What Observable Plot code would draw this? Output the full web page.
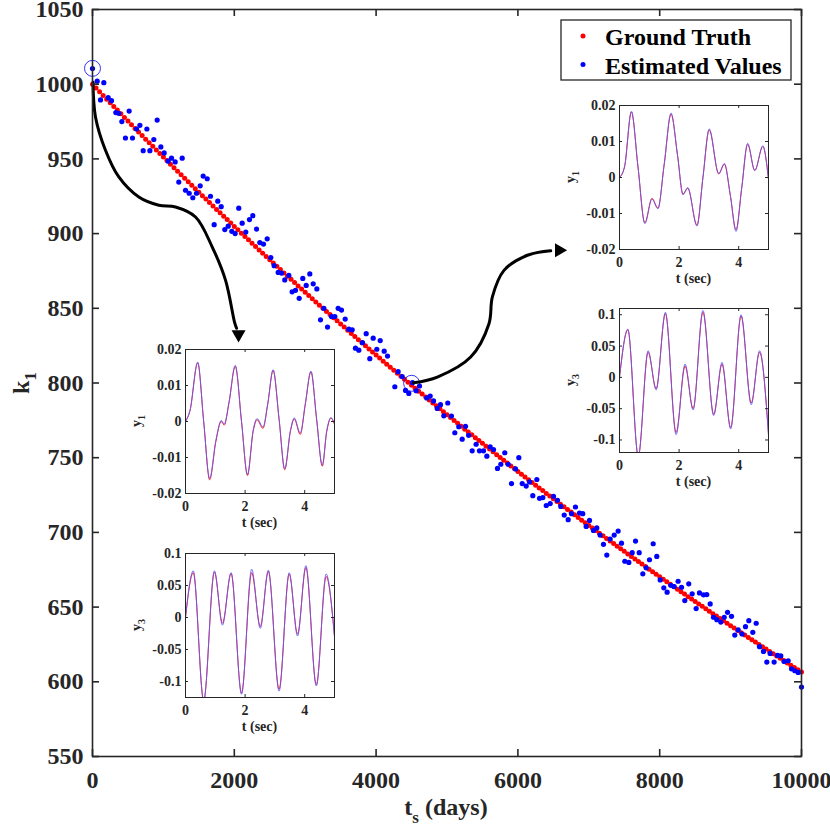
<!DOCTYPE html>
<html><head><meta charset="utf-8">
<script src="https://cdn.jsdelivr.net/npm/d3@7"></script>
<script src="https://cdn.jsdelivr.net/npm/@observablehq/plot@0.6"></script>
<style>
body{margin:0;background:#fff}
#wrap{position:relative;width:830px;height:830px;overflow:hidden;font-family:"Liberation Serif","Times New Roman",serif;font-weight:bold}
#wrap svg{position:absolute}
</style></head><body><div id="wrap"></div>
<script>
// ---------- main chart data ----------
const xTicks = [0, 2000, 4000, 6000, 8000, 10000];
const yTicks = [550, 600, 650, 700, 750, 800, 850, 900, 950, 1000, 1050];
const legendLabels = ["Ground Truth", "Estimated Values"];

const gtDays = [0,50,100,150,200,250,300,350,400,450,500,550,600,650,700,750,800,850,900,950,
1000,1050,1100,1150,1200,1250,1300,1350,1400,1450,1500,1550,1600,1650,1700,1750,1800,1850,1900,1950,
2000,2050,2100,2150,2200,2250,2300,2350,2400,2450,2500,2550,2600,2650,2700,2750,2800,2850,2900,2950,
3000,3050,3100,3150,3200,3250,3300,3350,3400,3450,3500,3550,3600,3650,3700,3750,3800,3850,3900,3950,
4000,4050,4100,4150,4200,4250,4300,4350,4400,4450,4500,4550,4600,4650,4700,4750,4800,4850,4900,4950,
5000,5050,5100,5150,5200,5250,5300,5350,5400,5450,5500,5550,5600,5650,5700,5750,5800,5850,5900,5950,
6000,6050,6100,6150,6200,6250,6300,6350,6400,6450,6500,6550,6600,6650,6700,6750,6800,6850,6900,6950,
7000,7050,7100,7150,7200,7250,7300,7350,7400,7450,7500,7550,7600,7650,7700,7750,7800,7850,7900,7950,
8000,8050,8100,8150,8200,8250,8300,8350,8400,8450,8500,8550,8600,8650,8700,8750,8800,8850,8900,8950,
9000,9050,9100,9150,9200,9250,9300,9350,9400,9450,9500,9550,9600,9650,9700,9750,9800,9850,9900,9950,10000];
const gtValues = [1000,997.5,995.0,992.5,990.0,987.6,985.1,982.7,980.2,977.7,975.3,972.9,970.4,968.0,965.6,963.2,960.8,958.4,956.0,953.6,
951.2,948.9,946.5,944.1,941.8,939.4,937.1,934.7,932.4,930.1,927.7,925.4,923.1,920.8,918.5,916.2,913.9,911.6,909.4,907.1,
904.8,902.6,900.3,898.1,895.8,893.6,891.4,889.1,886.9,884.7,882.5,880.3,878.1,875.9,873.7,871.5,869.4,867.2,865.0,862.9,
860.7,858.6,856.4,854.3,852.1,850.0,847.9,845.8,843.7,841.6,839.5,837.4,835.3,833.2,831.1,829.0,827.0,824.9,822.8,820.8,
818.7,816.7,814.6,812.6,810.6,808.6,806.5,804.5,802.5,800.5,798.5,796.5,794.5,792.6,790.6,788.6,786.6,784.7,782.7,780.8,
778.8,776.9,774.9,773.0,771.1,769.1,767.2,765.3,763.4,761.5,759.6,757.7,755.8,753.9,752.0,750.1,748.3,746.4,744.5,742.7,
740.8,739.0,737.1,735.3,733.4,731.6,729.8,728.0,726.1,724.3,722.5,720.7,718.9,717.1,715.3,713.6,711.8,710.0,708.2,706.5,
704.7,703.0,701.2,699.5,697.7,696.0,694.2,692.5,690.7,689.0,687.3,685.6,683.9,682.2,680.5,678.8,677.1,675.4,673.7,672.0,
670.3,668.6,667.0,665.3,663.7,662.0,660.3,658.7,657.0,655.4,653.8,652.1,650.5,648.9,647.3,645.6,644.0,642.4,640.8,639.2,
637.6,636.0,634.4,632.9,631.3,629.7,628.1,626.6,625.0,623.5,621.9,620.3,618.8,617.2,615.7,614.2,612.6,611.1,609.6,608.0,606.5];

const estDays = [0,66,113,160,221,268,329,371,414,465,517,564,621,668,715,767,809,865,912,964,
1011,1067,1114,1166,1217,1265,1312,1364,1415,1467,1519,1561,1618,1664,1716,1767,1815,1866,1914,1965,
2012,2063,2111,2162,2214,2261,2313,2360,2412,2464,2515,2562,2619,2666,2712,2769,2816,2863,2915,2966,
3014,3065,3113,3164,3216,3263,3315,3371,3418,3465,3512,3564,3615,3663,3709,3756,3808,3860,3911,3959,
4010,4058,4114,4161,4264,4311,4368,4415,4461,4513,4565,4612,4715,4763,4810,4862,4908,4955,5011,5063,
5110,5166,5214,5261,5305,5355,5411,5458,5515,5562,5609,5656,5712,5759,5815,5863,5910,5966,6013,6061,
6117,6164,6210,6267,6305,6352,6400,6456,6502,6558,6605,6653,6709,6756,6812,6869,6915,6963,7010,7066,
7113,7160,7207,7254,7301,7358,7414,7461,7508,7565,7612,7659,7711,7762,7810,7856,7908,7959,8007,8058,
8105,8157,8204,8260,8308,8354,8410,8458,8514,8561,8618,8664,8712,8759,8806,8862,8910,8957,9013,9059,
9107,9163,9210,9257,9313,9361,9408,9464,9511,9558,9614,9661,9708,9755,9812,9859,9906,9953,10000];
const estValues = [1010.5,1002,989.5,1001,991,989,981,980.5,975,964,982,964,970,972.5,955.5,970,955.5,963,976,958,
954,948.5,950.5,948,934.5,950.5,929,927,924,927,932,938.5,936.7,925,906,921.7,918,902.7,905,901.5,
900,917,907,901,909.4,912,903,894,893,896.5,884,878.5,874,873.6,869,872,861,862,856.7,870,
865.3,873,866.4,863,842.3,850,837.4,844.5,844.5,850,848.8,842.8,836,835.6,823.3,822,827,833,816.3,830,
822.6,828.4,821.3,818,797.5,807.6,804.3,795,793,800.2,794.8,798,790,791.3,788,783,785.5,778,786.6,777.9,
766.7,770.7,762.4,771,765,754.6,759,754.6,754.6,751,757.3,755.5,742.8,745.6,753.3,745.6,732.7,742.5,750,732.7,
731,733.8,724.6,735.4,722.8,723.3,718,719.3,724.2,721.5,717.4,711.6,708.5,712.5,717,713,712.5,704,708,701.3,
703,698.2,692,684.8,695.5,698.2,700.9,692.8,680.7,679.9,686.4,694.2,686.4,672.3,676.3,681.7,692.4,683.9,668.2,662.9,
660,664.6,663.8,667.3,663.3,654.4,665.6,658.9,649,659.5,658.2,658.4,652.1,643.2,641.6,640,643.2,646.5,643.8,631.3,
634.7,632,636.9,640.9,633.1,639.2,623.5,620.3,613.2,619,613.2,617.7,617.3,613.6,614.1,608.7,607.4,606.3,596.5];

// annotation paths (data units)
const arrow1Days = [7,42,183,371,653,936,1171,1453,1689,1877,2004,2032];
const arrow1Vals = [1001.3,978.1,955.8,937.9,924.5,919,917.8,911.1,891,868.7,840.6,836.6];
const arrow2Days = [4529,4864,5334,5592,5640,5804,6134,6463];
const arrow2Vals = [800.1,804,817.4,839.7,857.6,875.4,885.5,888.5];
const headDays = [2060, 6580];
const headVals = [832.6, 888.8];
const headRot = [180, 90];
const circleDays = [0, 4501];
const circleVals = [1010.6, 799.8];

// ---------- inset data ----------
const insetXTicks = [0, 2, 4];
const y1Ticks = [-0.02, -0.01, 0, 0.01, 0.02];
const y3Ticks = [-0.1, -0.05, 0, 0.05, 0.1];

const tA = [0,0.15,0.41,0.61,0.81,1.02,1.2,1.3,1.46,1.67,1.88,2.08,2.27,2.4,2.6,2.76,2.94,3.14,3.33,3.52,3.65,3.85,4.02,4.21,4.4,4.59,4.74,4.88,5.0];
const estA = [0,0.003,0.0165,0.0,-0.0158,-0.0052,0.0003,-0.0007,0.0054,0.0156,0.0,-0.0147,-0.0024,0.0008,-0.0015,0.005,0.0144,0.0008,-0.0131,-0.0025,0.001,-0.0032,0.005,0.014,0.0008,-0.0121,-0.0025,0.0011,-0.0006];
const gtA = [0,0.003,0.0163,0.0,-0.0162,-0.0055,0.0,-0.001,0.0052,0.0153,0.0,-0.015,-0.0028,0.0005,-0.0019,0.0048,0.0142,0.0006,-0.0134,-0.0028,0.0007,-0.0036,0.0047,0.0138,0.0005,-0.0124,-0.0028,0.0009,-0.0008];

const tB = [0,0.26,0.61,0.97,1.24,1.53,1.88,2.22,2.51,2.78,3.14,3.48,3.76,4.04,4.39,4.72,5.0];
const estB = [0,0.0729,-0.13,0.073,-0.012,0.070,-0.12,0.0755,-0.017,0.074,-0.115,0.070,-0.029,0.081,-0.107,0.068,-0.031];
const gtB = [0,0.070,-0.13,0.071,-0.009,0.069,-0.118,0.070,-0.014,0.072,-0.112,0.068,-0.026,0.078,-0.105,0.064,-0.029];

const tC = [0,0.17,0.40,0.62,0.85,1.09,1.29,1.50,1.73,1.95,2.13,2.29,2.60,2.80,3.01,3.33,3.52,3.72,3.91,4.10,4.30,4.54,4.81,5.0];
const estC = [0,0.003,0.0184,0.003,-0.0128,-0.006,-0.0087,0.0037,0.0179,0.006,-0.0048,-0.0028,-0.0135,0.0,0.0135,0.0011,0.0039,-0.005,-0.015,-0.003,0.0095,0.0019,0.0088,-0.0005];
const gtC = [0,0.003,0.0182,0.003,-0.0126,-0.0058,-0.0085,0.0036,0.0176,0.006,-0.0046,-0.003,-0.0132,0.0,0.0132,0.001,0.0037,-0.005,-0.0145,-0.003,0.0092,0.002,0.0086,-0.0005];

const tD = [0,0.28,0.63,0.96,1.23,1.54,1.90,2.20,2.47,2.80,3.16,3.44,3.73,4.08,4.42,4.70,5.0];
const estD = [0,0.077,-0.126,0.0426,-0.020,0.104,-0.0915,0.0213,-0.052,0.107,-0.061,0.024,-0.0824,0.100,-0.0436,0.0426,-0.093];
const gtD = [0,0.076,-0.126,0.040,-0.018,0.102,-0.088,0.018,-0.050,0.104,-0.059,0.021,-0.080,0.098,-0.041,0.040,-0.090];

// ---------- build ----------
const FONT = '"Liberation Serif","Times New Roman",serif';
const AX = "#262626";
const W = 830, H = 830, mL = 92, mR = 29, mT = 9, mB = 74;
const fw = W - mL - mR, fh = H - mT - mB;

const zip = (a, b, extra = {}) => a.map((x, i) => ({x, y: b[i], ...Object.fromEntries(Object.entries(extra).map(([k, v]) => [k, v[i]]))}));
const gt = zip(gtDays, gtValues);
const est = zip(estDays, estValues);
const arrow1 = zip(arrow1Days, arrow1Vals);
const arrow2 = zip(arrow2Days, arrow2Vals);
const heads = zip(headDays, headVals, {rot: headRot});
const circles = zip(circleDays, circleVals);

const main = Plot.plot({
  width: W, height: H, marginLeft: mL, marginRight: mR, marginTop: mT, marginBottom: mB,
  style: {fontFamily: FONT, fontWeight: "bold", background: "white", overflow: "visible", color: AX},
  x: {domain: [0, 10000], label: null},
  y: {domain: [550, 1050], label: null},
  marks: [
    Plot.dot(gt, {x: "x", y: "y", r: 2.5, fill: "#ff0000"}),
    Plot.dot(est, {x: "x", y: "y", r: 2.6, fill: "#0000ff"}),
    Plot.dot(circles, {x: "x", y: "y", r: 8, stroke: "#0000ff", fill: "none", strokeWidth: 0.8}),
    Plot.line(arrow1, {x: "x", y: "y", curve: "catmull-rom", stroke: "black", strokeWidth: 3}),
    Plot.line(arrow2, {x: "x", y: "y", curve: "catmull-rom", stroke: "black", strokeWidth: 3}),
    Plot.dot(heads, {x: "x", y: "y", symbol: "triangle", r: 5.2, fill: "black", rotate: "rot"}),
    Plot.frame({stroke: AX, strokeWidth: 1.6}),
    Plot.tickX(xTicks, {x: d => d, insetTop: fh - 7, stroke: AX, strokeWidth: 1.6}),
    Plot.tickX(xTicks, {x: d => d, insetBottom: fh - 7, stroke: AX, strokeWidth: 1.6}),
    Plot.tickY(yTicks, {y: d => d, insetRight: fw - 7, stroke: AX, strokeWidth: 1.6}),
    Plot.tickY(yTicks, {y: d => d, insetLeft: fw - 7, stroke: AX, strokeWidth: 1.6}),
    Plot.axisX({ticks: xTicks, tickSize: 0, tickPadding: 14, fontSize: 24, fontWeight: "bold", fill: AX, tickFormat: d => String(d), label: null}),
    Plot.axisY({ticks: yTicks, tickSize: 0, tickPadding: 9, fontSize: 24, fontWeight: "bold", fill: AX, tickFormat: d => String(d), label: null})
  ]
});
main.style.left = "0px"; main.style.top = "0px";
const wrap = document.getElementById("wrap");
wrap.appendChild(main);

const svg = d3.select(main);
// axis titles
const xl = svg.append("text").attr("x", 446).attr("y", 815).attr("text-anchor", "middle")
  .attr("font-family", FONT).attr("font-weight", "bold").attr("font-size", 24).attr("fill", AX);
xl.append("tspan").text("t");
xl.append("tspan").attr("dy", 8).attr("font-size", 17).text("s");
xl.append("tspan").attr("dy", -8).text(" (days)");
const yl = svg.append("text").attr("transform", "translate(29,383) rotate(-90)").attr("text-anchor", "middle")
  .attr("font-family", FONT).attr("font-weight", "bold").attr("font-size", 24).attr("fill", AX);
yl.append("tspan").text("k");
yl.append("tspan").attr("dy", 7).attr("font-size", 17).text("1");

// legend
const lg = svg.append("g");
lg.append("rect").attr("x", 561).attr("y", 20).attr("width", 230).attr("height", 60)
  .attr("fill", "white").attr("stroke", AX).attr("stroke-width", 1.3);
const legColors = ["#ff0000", "#0000ff"];
legendLabels.forEach((s, i) => {
  const cy = 36 + i * 28.5;
  lg.append("circle").attr("cx", 583).attr("cy", cy).attr("r", 2.5).attr("fill", legColors[i]);
  lg.append("text").attr("x", 605).attr("y", cy + 9).attr("text-anchor", "start").attr("font-family", FONT).attr("font-weight", "bold")
    .attr("font-size", 24).attr("fill", "black").text(s);
});

// ---------- insets ----------
function inset({left, top, domain, ticks, sub, t, estV, gtV}) {
  const iw = 149, ih = 144, iL = 60, iR = 6, iT = 6, iB = 42;
  const fmt = d => d === 0 ? "0" : String(d);
  const p = Plot.plot({
    width: iL + iw + iR, height: iT + ih + iB, marginLeft: iL, marginRight: iR, marginTop: iT, marginBottom: iB,
    style: {fontFamily: FONT, fontWeight: "bold", background: "transparent", overflow: "visible", color: AX},
    x: {domain: [0, 5], label: null},
    y: {domain, label: null},
    marks: [
      Plot.frame({fill: "white", stroke: "none"}),
      Plot.line(zip(t, gtV), {x: "x", y: "y", stroke: "#ff0000", strokeWidth: 0.9, curve: "monotone-x", clip: true}),
      Plot.line(zip(t, estV), {x: "x", y: "y", stroke: "#5a5aff", strokeOpacity: 0.85, strokeWidth: 1, curve: "monotone-x", clip: true}),
      Plot.frame({stroke: AX, strokeWidth: 1}),
      Plot.tickX(insetXTicks, {x: d => d, insetTop: ih - 3, stroke: AX}),
      Plot.tickX(insetXTicks, {x: d => d, insetBottom: ih - 3, stroke: AX}),
      Plot.tickY(ticks, {y: d => d, insetRight: iw - 3, stroke: AX}),
      Plot.tickY(ticks, {y: d => d, insetLeft: iw - 3, stroke: AX}),
      Plot.axisX({ticks: insetXTicks, tickSize: 0, tickPadding: 8, fontSize: 14, fontWeight: "bold", fill: AX, tickFormat: fmt, label: null}),
      Plot.axisY({ticks, tickSize: 0, tickPadding: 4, fontSize: 14, fontWeight: "bold", fill: AX, tickFormat: fmt, label: null})
    ]
  });
  p.style.left = (left - iL) + "px";
  p.style.top = (top - iT) + "px";
  wrap.appendChild(p);
  const s = d3.select(p);
  s.append("text").attr("x", iL + iw / 2).attr("y", iT + ih + 34).attr("text-anchor", "middle")
    .attr("font-family", FONT).attr("font-weight", "bold").attr("font-size", 14).attr("fill", AX).text("t (sec)");
  const yt = s.append("text").attr("transform", `translate(${iL - 44},${iT + ih / 2}) rotate(-90)`).attr("text-anchor", "middle")
    .attr("font-family", FONT).attr("font-weight", "bold").attr("font-size", 14).attr("fill", AX);
  yt.append("tspan").text("y");
  yt.append("tspan").attr("dy", 4).attr("font-size", 10).text(sub);
}

inset({left: 185, top: 349, domain: [-0.02, 0.02], ticks: y1Ticks, sub: "1", t: tA, estV: estA, gtV: gtA});
inset({left: 185, top: 553, domain: [-0.125, 0.1], ticks: y3Ticks, sub: "3", t: tB, estV: estB, gtV: gtB});
inset({left: 619, top: 105, domain: [-0.02, 0.02], ticks: y1Ticks, sub: "1", t: tC, estV: estC, gtV: gtC});
inset({left: 619, top: 308, domain: [-0.12, 0.11], ticks: y3Ticks, sub: "3", t: tD, estV: estD, gtV: gtD});
</script></body></html>
